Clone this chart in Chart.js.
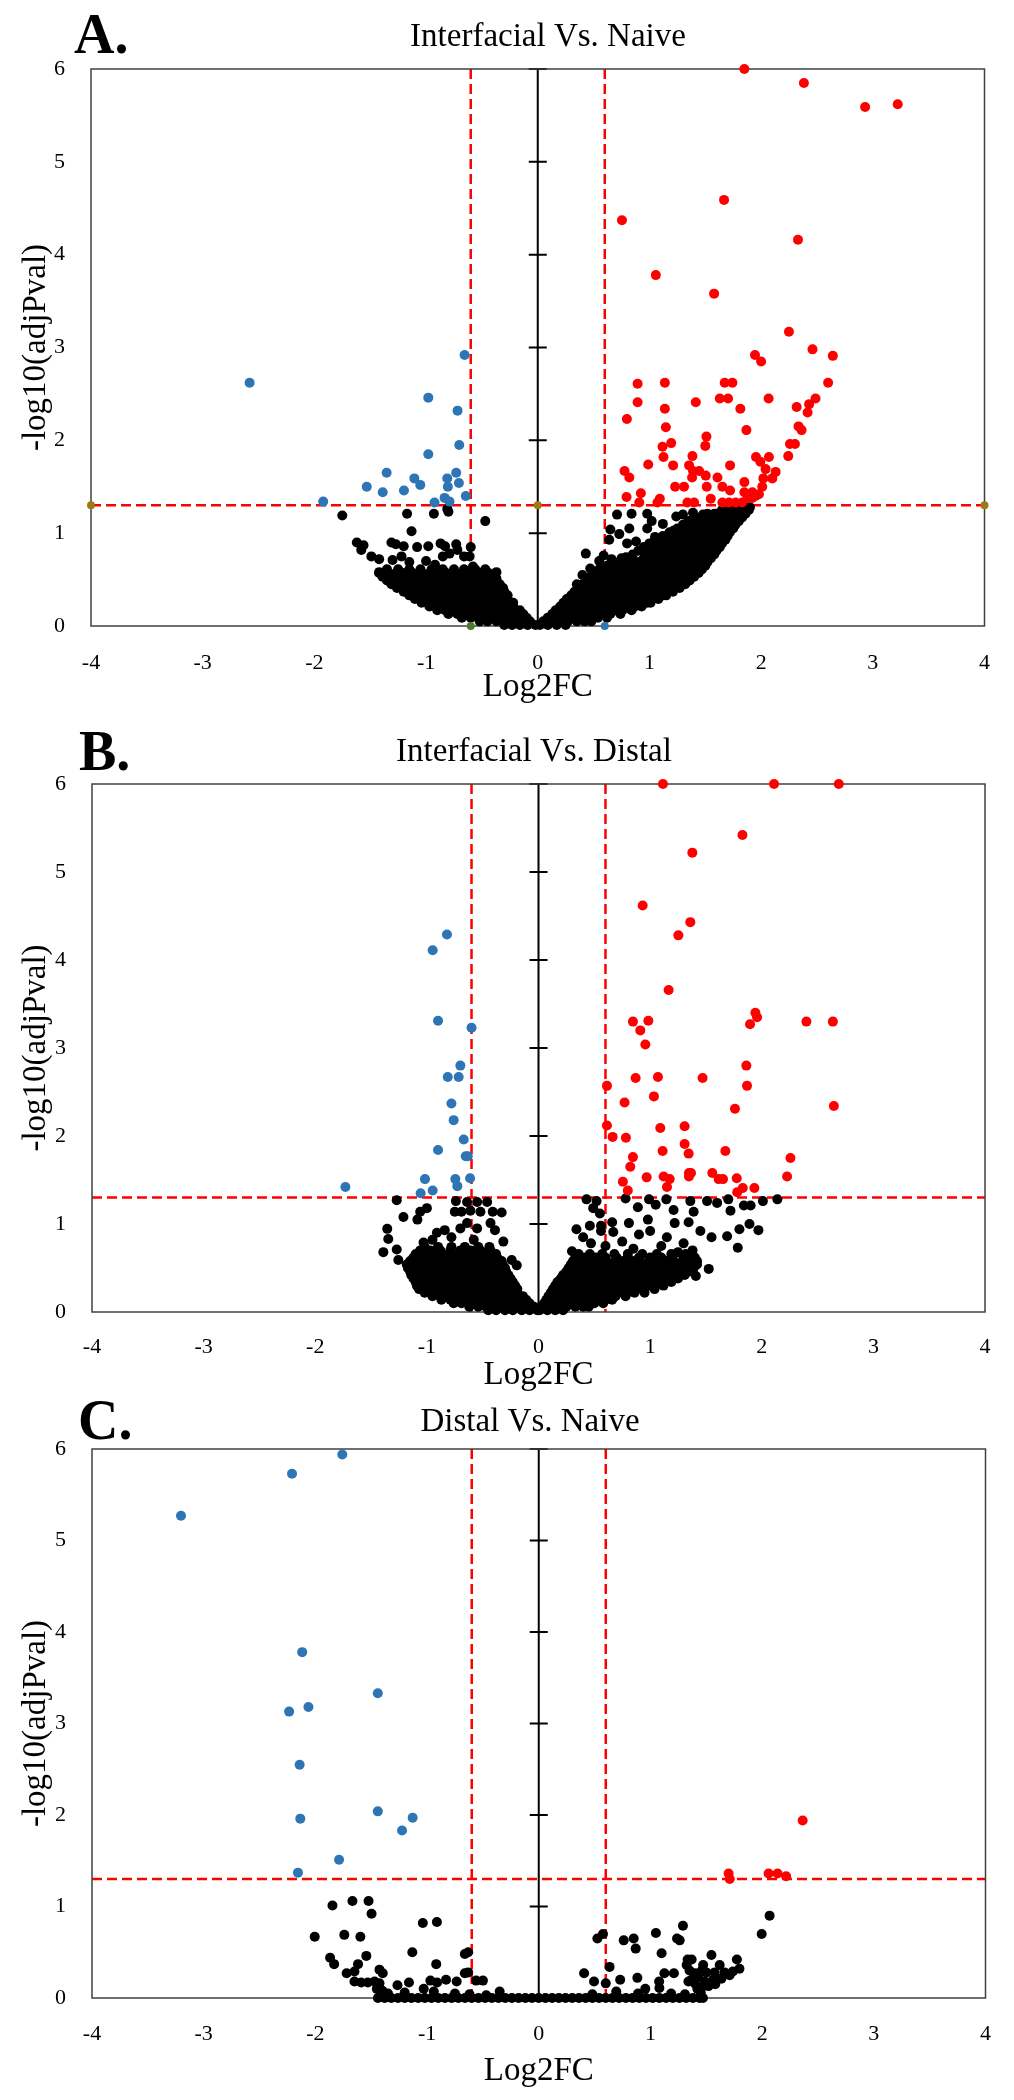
<!DOCTYPE html>
<html>
<head>
<meta charset="utf-8">
<script src="https://cdn.jsdelivr.net/npm/chart.js@4.4.1/dist/chart.umd.min.js"></script>
<style>
  body { margin: 0; background: #fff; width: 1014px; height: 2100px; position: relative; overflow: hidden; }
  canvas { position: absolute; left: 0; }
</style>
</head>
<body>
<canvas id="chartA" width="1014" height="710" style="top:0px"></canvas>
<canvas id="chartB" width="1014" height="700" style="top:700px"></canvas>
<canvas id="chartC" width="1014" height="720" style="top:1380px"></canvas>
<script>
// axis ranges and cut-offs
const fcRange = [-4, 4];
const pRange = [0, 6];
const fcCut = [-0.6, 0.6];
const pCut = 1.3;
const zeroTicks = [1, 2, 3, 4, 5, 6];

// ---------- A. Interfacial Vs. Naive ----------
const downA = [[-2.58,2.62],[-0.655,2.92],[-0.98,2.46],[-0.718,2.32],[-0.703,1.95],[-0.98,1.85],[-1.353,1.65],[-1.531,1.50],[-1.388,1.44],[-1.198,1.46],[-1.105,1.59],[-1.052,1.52],[-0.81,1.59],[-0.73,1.65],[-0.805,1.50],[-0.706,1.54],[-0.644,1.40],[-1.921,1.34],[-0.924,1.33],[-0.834,1.38],[-0.79,1.34]];
const upA = [[1.85,6.0],[2.383,5.85],[2.931,5.59],[3.223,5.62],[1.668,4.59],[0.754,4.37],[2.33,4.16],[1.057,3.78],[1.579,3.58],[2.249,3.17],[2.46,2.98],[2.642,2.91],[1.945,2.92],[2.0,2.85],[0.894,2.61],[1.138,2.62],[1.674,2.62],[1.743,2.62],[2.6,2.62],[0.894,2.41],[1.138,2.34],[1.415,2.41],[1.63,2.45],[1.704,2.45],[2.067,2.45],[2.487,2.45],[2.43,2.39],[2.318,2.36],[2.416,2.30],[1.814,2.34],[0.798,2.23],[1.147,2.14],[1.868,2.11],[2.335,2.15],[2.362,2.11],[1.51,2.04],[1.50,1.94],[1.195,1.97],[1.117,1.93],[2.258,1.96],[2.303,1.96],[2.243,1.83],[1.954,1.82],[2.07,1.82],[1.126,1.82],[1.385,1.83],[0.989,1.74],[1.212,1.73],[1.722,1.73],[0.777,1.67],[0.82,1.60],[1.355,1.73],[1.39,1.67],[1.445,1.67],[1.504,1.62],[1.382,1.60],[1.609,1.60],[1.993,1.77],[2.04,1.69],[2.13,1.66],[2.10,1.59],[2.02,1.59],[1.23,1.50],[1.31,1.50],[1.513,1.50],[1.653,1.50],[1.722,1.46],[1.85,1.55],[1.85,1.44],[1.921,1.44],[1.98,1.42],[2.01,1.50],[0.795,1.39],[0.923,1.43],[1.093,1.37],[1.549,1.37],[0.909,1.33],[1.072,1.33],[1.34,1.33],[1.40,1.33],[1.653,1.33],[1.713,1.33],[1.772,1.33],[1.83,1.33],[1.877,1.38],[1.92,1.38],[1.95,1.40]];
// dense cloud of non-significant genes, read row by row: [y, x values]
const cloudA = [
  [0.01, [-0.30,-0.23,-0.16,-0.09,-0.02,0.02,0.09,0.17,0.25]],
  [0.05, [-0.52,-0.45,-0.37,-0.30,-0.22,-0.15,-0.07,0.05,0.12,0.20,0.27,0.35,0.42,0.48]],
  [0.09, [-0.68,-0.60,-0.53,-0.45,-0.38,-0.30,-0.23,-0.15,-0.10,0.09,0.16,0.24,0.31,0.39,0.46,0.54,0.62]],
  [0.13, [-0.80,-0.72,-0.65,-0.57,-0.50,-0.42,-0.35,-0.27,-0.20,-0.13,0.13,0.20,0.28,0.35,0.43,0.50,0.58,0.65,0.74]],
  [0.17, [-0.90,-0.83,-0.75,-0.68,-0.60,-0.53,-0.45,-0.38,-0.30,-0.23,-0.16,0.16,0.24,0.31,0.39,0.46,0.54,0.61,0.69,0.76,0.84]],
  [0.21, [-0.97,-0.89,-0.82,-0.74,-0.67,-0.59,-0.52,-0.44,-0.37,-0.29,-0.22,0.20,0.27,0.35,0.42,0.50,0.57,0.65,0.72,0.80,0.87,0.93]],
  [0.25, [-1.04,-0.97,-0.89,-0.82,-0.74,-0.67,-0.59,-0.52,-0.44,-0.37,-0.29,-0.22,0.23,0.31,0.38,0.46,0.53,0.61,0.68,0.76,0.83,0.91,0.98,1.01]],
  [0.29, [-1.10,-1.02,-0.95,-0.87,-0.80,-0.72,-0.65,-0.57,-0.50,-0.42,-0.35,-0.27,0.26,0.34,0.41,0.49,0.56,0.64,0.71,0.79,0.86,0.94,1.01,1.08]],
  [0.33, [-1.15,-1.08,-1.00,-0.93,-0.85,-0.78,-0.70,-0.63,-0.55,-0.48,-0.40,-0.33,-0.27,0.30,0.37,0.45,0.52,0.60,0.67,0.75,0.82,0.90,0.97,1.05,1.12,1.15]],
  [0.37, [-1.20,-1.12,-1.05,-0.97,-0.90,-0.82,-0.75,-0.67,-0.60,-0.52,-0.45,-0.37,-0.30,0.33,0.41,0.48,0.56,0.63,0.71,0.78,0.86,0.93,1.01,1.08,1.16,1.21]],
  [0.41, [-1.26,-1.18,-1.11,-1.03,-0.96,-0.88,-0.81,-0.73,-0.66,-0.58,-0.51,-0.43,-0.36,-0.31,0.37,0.44,0.52,0.59,0.67,0.74,0.82,0.89,0.97,1.04,1.12,1.19,1.27]],
  [0.45, [-1.31,-1.24,-1.16,-1.09,-1.01,-0.94,-0.86,-0.79,-0.71,-0.64,-0.56,-0.49,-0.41,-0.34,0.40,0.48,0.55,0.63,0.70,0.78,0.85,0.93,1.00,1.08,1.15,1.23,1.30,1.32]],
  [0.49, [-1.35,-1.27,-1.20,-1.12,-1.05,-0.97,-0.90,-0.82,-0.75,-0.67,-0.60,-0.52,-0.45,-0.37,0.44,0.51,0.59,0.66,0.74,0.81,0.89,0.96,1.04,1.11,1.19,1.26,1.34,1.36]],
  [0.53, [-1.39,-1.31,-1.24,-1.16,-1.09,-1.01,-0.94,-0.86,-0.79,-0.71,-0.64,-0.56,-0.49,-0.41,0.47,0.55,0.62,0.70,0.77,0.85,0.92,1.00,1.07,1.15,1.22,1.30,1.37,1.40]],
  [0.57, [-1.42,-1.34,-1.27,-1.19,-1.12,-1.04,-0.97,-0.89,-0.82,-0.74,-0.67,-0.59,-0.52,-0.44,0.50,0.58,0.65,0.73,0.80,0.88,0.95,1.03,1.10,1.18,1.25,1.33,1.40,1.44]],
  [0.61, [-1.35,-1.25,-1.15,-1.05,-0.95,-0.85,-0.75,-0.66,-0.56,-0.47,0.55,0.62,0.70,0.77,0.85,0.92,1.00,1.07,1.15,1.22,1.30,1.37,1.44,1.47]],
  [0.65, [0.62,0.69,0.77,0.84,0.92,0.99,1.07,1.14,1.22,1.29,1.37,1.44,1.50]],
  [0.69, [0.68,0.76,0.83,0.91,0.98,1.06,1.13,1.21,1.28,1.36,1.43,1.52]],
  [0.73, [0.75,0.85,0.95,1.03,1.10,1.18,1.25,1.33,1.40,1.48,1.55]],
  [0.77, [0.85,0.97,1.07,1.14,1.22,1.29,1.37,1.44,1.52,1.58]],
  [0.81, [0.90,1.02,1.11,1.18,1.26,1.33,1.41,1.48,1.56,1.60]],
  [0.85, [0.95,1.08,1.15,1.23,1.30,1.38,1.45,1.53,1.60,1.63]],
  [0.89, [1.00,1.12,1.19,1.27,1.34,1.42,1.49,1.57,1.65]],
  [0.93, [1.05,1.17,1.24,1.32,1.39,1.47,1.54,1.62,1.68]],
  [0.97, [1.12,1.22,1.29,1.37,1.44,1.52,1.59,1.67,1.70]],
  [1.01, [1.18,1.27,1.34,1.42,1.49,1.57,1.64,1.72]],
  [1.05, [1.25,1.33,1.40,1.48,1.55,1.63,1.70,1.75]],
  [1.09, [1.30,1.38,1.45,1.53,1.60,1.68,1.77]],
  [1.13, [1.35,1.43,1.50,1.58,1.65,1.73,1.80]],
  [1.17, [1.42,1.50,1.57,1.65,1.72,1.80,1.83]],
  [1.21, [1.52,1.60,1.67,1.75,1.82,1.86]],
  [1.25, [1.65,1.72,1.80,1.89]],
  [1.28, [1.78,1.85,1.90]]
];
const looseA = [[-1.75,1.19],[-1.17,1.21],[-0.93,1.21],[-0.81,1.26],[-0.80,1.23],[-0.47,1.13],[-1.13,1.02],[-1.62,0.90],[-1.56,0.87],[-1.58,0.82],[-1.31,0.90],[-1.27,0.88],[-1.20,0.86],[-1.08,0.85],[-0.98,0.86],[-0.87,0.89],[-0.83,0.86],[-0.73,0.88],[-0.60,0.85],[-1.49,0.75],[-1.42,0.72],[-1.30,0.71],[-1.22,0.75],[-1.15,0.69],[-0.85,0.75],[-0.79,0.78],[-0.72,0.82],[-0.66,0.75],[-0.61,0.75],[-0.58,0.64],[-0.49,0.58],[-0.37,0.58],[-0.37,0.51],[-1.42,0.58],[-1.0,0.70],[-0.92,0.66],
  [0.71,1.20],[0.84,1.21],[0.98,1.21],[0.65,1.04],[0.82,1.05],[0.98,1.05],[0.73,0.99],[0.64,0.93],[0.80,0.89],[0.88,0.91],[0.43,0.78],[0.59,0.76],[0.66,0.72],[0.79,0.74],[1.24,1.18],[1.30,1.20],[1.39,1.22],[1.48,1.20],[1.58,1.21],[1.68,1.21],[1.22,1.03],[1.15,0.93],[0.47,0.62],[0.55,0.70],[1.05,0.96],[1.07,0.85],[0.95,0.72],[1.02,1.13],[1.12,1.10],[0.40,0.55],[0.35,0.45]];
const markA = [[-4,1.3],[0,1.3],[4,1.3],[-0.6,0],[0.6,0]];
const markColorsA = ['#9C7A14','#9C7A14','#9C7A14','#4E7A2A','#2E75B6'];

// ---------- B. Interfacial Vs. Distal ----------
const downB = [[-0.82,4.29],[-0.948,4.11],[-0.90,3.31],[-0.60,3.23],[-0.70,2.80],[-0.813,2.67],[-0.715,2.67],[-0.78,2.37],[-0.76,2.18],[-0.67,1.96],[-0.90,1.84],[-0.652,1.77],[-0.634,1.77],[-1.73,1.42],[-1.017,1.51],[-0.745,1.51],[-0.613,1.52],[-1.056,1.35],[-0.948,1.38],[-0.727,1.43]];
const upB = [[1.115,6.0],[2.11,6.0],[2.69,6.0],[1.827,5.42],[1.378,5.22],[0.933,4.62],[1.36,4.43],[1.253,4.28],[1.166,3.66],[0.846,3.30],[0.984,3.31],[0.912,3.20],[0.957,3.04],[1.943,3.40],[1.958,3.35],[1.895,3.27],[2.40,3.30],[2.637,3.30],[1.862,2.80],[1.868,2.57],[0.87,2.66],[1.07,2.67],[1.47,2.66],[0.613,2.57],[1.034,2.45],[0.771,2.38],[1.76,2.31],[2.646,2.34],[0.613,2.12],[0.664,1.99],[0.783,1.98],[1.091,2.09],[1.309,2.11],[1.309,1.91],[1.345,1.80],[1.112,1.83],[1.674,1.83],[0.846,1.76],[0.822,1.65],[2.257,1.75],[0.969,1.53],[1.121,1.54],[1.175,1.51],[1.151,1.42],[1.348,1.58],[1.366,1.58],[1.348,1.54],[1.557,1.58],[1.614,1.51],[1.653,1.51],[1.776,1.52],[2.227,1.54],[0.756,1.48],[0.80,1.38],[1.83,1.41],[1.78,1.36],[1.934,1.41]];
const cloudB = [
  [0.02, [-0.45,-0.38,-0.30,-0.23,-0.15,-0.08,-0.01,0.01,0.08,0.15,0.22]],
  [0.06, [-0.62,-0.54,-0.47,-0.39,-0.32,-0.24,-0.17,-0.09,-0.04,0.03,0.10,0.18,0.25,0.33,0.40,0.45]],
  [0.10, [-0.76,-0.69,-0.61,-0.54,-0.46,-0.39,-0.31,-0.24,-0.16,-0.08,0.05,0.12,0.20,0.27,0.35,0.42,0.50,0.58]],
  [0.14, [-0.87,-0.79,-0.72,-0.64,-0.57,-0.49,-0.42,-0.34,-0.27,-0.19,-0.11,0.07,0.15,0.22,0.30,0.37,0.45,0.52,0.60,0.66]],
  [0.18, [-0.95,-0.88,-0.80,-0.73,-0.65,-0.58,-0.50,-0.43,-0.35,-0.28,-0.20,-0.14,0.09,0.16,0.24,0.31,0.39,0.46,0.54,0.61,0.69,0.78]],
  [0.22, [-1.02,-0.94,-0.87,-0.79,-0.72,-0.64,-0.57,-0.49,-0.42,-0.34,-0.27,-0.19,0.11,0.19,0.26,0.34,0.41,0.49,0.56,0.64,0.71,0.79,0.86,0.95]],
  [0.26, [-1.07,-1.00,-0.92,-0.85,-0.77,-0.70,-0.62,-0.55,-0.47,-0.40,-0.32,-0.25,-0.19,0.13,0.20,0.28,0.35,0.43,0.50,0.58,0.65,0.73,0.80,0.88,0.95,1.04]],
  [0.30, [-1.09,-1.02,-0.94,-0.87,-0.79,-0.72,-0.64,-0.57,-0.49,-0.42,-0.34,-0.27,-0.21,0.15,0.23,0.30,0.38,0.45,0.53,0.60,0.68,0.75,0.83,0.90,0.98,1.05,1.12]],
  [0.34, [-1.10,-1.03,-0.95,-0.88,-0.80,-0.73,-0.65,-0.58,-0.50,-0.43,-0.35,-0.28,-0.23,0.17,0.24,0.32,0.39,0.47,0.54,0.62,0.69,0.77,0.84,0.92,0.99,1.07,1.14,1.19]],
  [0.38, [-1.12,-1.05,-0.97,-0.90,-0.82,-0.75,-0.67,-0.60,-0.52,-0.45,-0.37,-0.30,-0.25,0.20,0.27,0.35,0.42,0.50,0.57,0.65,0.72,0.80,0.87,0.95,1.02,1.10,1.17,1.25]],
  [0.42, [-1.14,-1.06,-0.99,-0.91,-0.84,-0.76,-0.69,-0.61,-0.54,-0.46,-0.39,-0.31,-0.27,0.22,0.29,0.37,0.44,0.52,0.59,0.67,0.74,0.82,0.89,0.97,1.04,1.12,1.19,1.27,1.31]],
  [0.46, [-1.15,-1.08,-1.00,-0.93,-0.85,-0.78,-0.70,-0.63,-0.55,-0.48,-0.40,-0.33,-0.29,0.25,0.32,0.40,0.47,0.55,0.62,0.70,0.77,0.85,0.92,1.00,1.07,1.15,1.22,1.30,1.35]],
  [0.50, [-1.17,-1.09,-1.02,-0.94,-0.87,-0.79,-0.72,-0.64,-0.57,-0.49,-0.42,-0.34,-0.30,0.27,0.34,0.42,0.49,0.57,0.64,0.72,0.79,0.87,0.94,1.02,1.09,1.17,1.24,1.32,1.39]],
  [0.54, [-1.18,-1.11,-1.03,-0.96,-0.88,-0.81,-0.73,-0.66,-0.58,-0.51,-0.43,-0.36,-0.32,0.29,0.36,0.44,0.51,0.59,0.66,0.74,0.81,0.89,0.96,1.04,1.11,1.19,1.26,1.34,1.42]],
  [0.58, [-1.15,-1.07,-1.00,-0.92,-0.85,-0.77,-0.70,-0.62,-0.55,-0.47,-0.40,-0.33,0.31,0.39,0.46,0.54,0.61,0.69,0.76,0.84,0.91,0.99,1.06,1.14,1.21,1.29,1.36,1.42]],
  [0.62, [-1.12,-1.04,-0.97,-0.89,-0.82,-0.74,-0.67,-0.59,-0.52,-0.44,-0.37,0.33,0.42,0.51,0.60,0.70,0.80,0.90,1.00,1.10,1.20,1.30,1.40]],
  [0.66, [-1.10,-1.02,-0.95,-0.87,-0.80,-0.72,-0.65,-0.57,-0.50,-0.42,-0.38,0.36,0.46,0.57,0.68,0.80,0.93,1.06,1.19,1.32]],
  [0.70, [-1.06,-0.97,-0.88,-0.79,-0.70,-0.61,-0.52,-0.43]],
  [0.74, [-1.02,-0.90,-0.78,-0.66,-0.54,-0.44]]
];
const looseB = [[-1.27,1.27],[-0.74,1.26],[-0.64,1.25],[-0.55,1.25],[-0.46,1.25],[-1.06,1.14],[-1.0,1.18],[-1.21,1.08],[-1.085,1.05],[-0.75,1.14],[-0.69,1.14],[-0.61,1.15],[-0.52,1.14],[-0.41,1.14],[-0.33,1.13],[-0.64,1.01],[-0.55,0.95],[-0.43,1.01],[-0.39,0.93],[-1.355,0.945],[-1.346,0.83],[-1.39,0.68],[-1.27,0.71],[-1.256,0.59],[-0.91,0.90],[-0.84,0.93],[-1.03,0.79],[-0.315,0.80],[-0.24,0.59],[-0.195,0.53],[-0.95,0.82],[-0.78,0.85],[-0.58,0.82],[-0.70,0.95],
  [0.43,1.28],[0.52,1.26],[0.78,1.29],[0.99,1.28],[1.145,1.28],[1.36,1.26],[1.51,1.26],[1.6,1.24],[1.70,1.28],[1.84,1.21],[1.90,1.21],[2.01,1.26],[2.14,1.28],[0.89,1.19],[1.05,1.22],[1.21,1.16],[1.39,1.14],[1.72,1.15],[0.49,1.18],[0.55,1.12],[0.66,1.02],[0.81,1.01],[0.98,1.05],[1.22,1.01],[1.345,1.02],[1.80,0.94],[1.89,1.0],[1.97,0.93],[0.34,0.94],[0.46,0.98],[0.56,0.98],[0.56,0.92],[0.90,0.88],[1.0,0.92],[1.45,0.92],[1.55,0.85],[1.69,0.86],[0.67,0.91],[1.785,0.73],[0.30,0.69],[1.525,0.49],[1.41,0.41],[0.40,0.85],[0.47,0.78],[0.60,0.75],[0.75,0.80],[1.15,0.85],[1.30,0.78],[1.38,0.70],[1.25,0.68],[0.85,0.72],[1.1,0.75]];

// ---------- C. Distal Vs. Naive ----------
const downC = [[-1.759,5.94],[-2.209,5.73],[-3.203,5.27],[-2.118,3.78],[-1.441,3.33],[-2.235,3.13],[-2.062,3.18],[-2.141,2.55],[-2.135,1.96],[-1.441,2.04],[-1.129,1.97],[-1.224,1.83],[-1.788,1.51],[-2.156,1.37]];
const upC = [[2.363,1.94],[1.70,1.36],[1.71,1.30],[2.058,1.36],[2.138,1.36],[2.215,1.33]];
const cloudC = [
  [0.0, [-1.44,-1.38,-1.32,-1.26,-1.20,-1.14,-1.08,-1.02,-0.96,-0.90,-0.84,-0.78,-0.72,-0.66,-0.60,-0.54,-0.48,-0.42,-0.36,-0.30,-0.24,-0.18,-0.12,-0.06,0.00,0.06,0.12,0.18,0.24,0.30,0.36,0.42,0.48,0.54,0.60,0.66,0.72,0.78,0.84,0.90,0.96,1.02,1.08,1.14,1.20,1.26,1.32,1.38,1.44,1.47]]
];
const looseC = [[-1.847,1.01],[-1.668,1.06],[-1.524,1.06],[-1.497,0.92],[-2.006,0.67],[-1.741,0.69],[-1.597,0.67],[-1.038,0.82],[-0.912,0.83],[-1.868,0.44],[-1.832,0.37],[-1.544,0.46],[-1.618,0.37],[-1.72,0.27],[-1.65,0.29],[-1.426,0.31],[-1.397,0.27],[-1.132,0.50],[-0.918,0.37],[-0.662,0.48],[-0.632,0.50],[-0.662,0.27],[-0.632,0.28],[-1.65,0.18],[-1.59,0.17],[-1.53,0.17],[-1.47,0.18],[-1.426,0.16],[-1.265,0.14],[-1.162,0.17],[-0.97,0.19],[-0.91,0.17],[-0.83,0.2],[-0.735,0.18],[-0.56,0.19],[-0.50,0.19],[-1.03,0.1],[-0.94,0.07],[-0.35,0.07],[-1.45,0.10],[-1.40,0.08],[-1.35,0.05],[-1.2,0.06],[-0.75,0.05],[-0.62,0.04],[-0.47,0.03],
  [2.067,0.90],[1.996,0.70],[1.291,0.79],[1.049,0.71],[1.238,0.65],[1.262,0.63],[0.761,0.63],[0.85,0.65],[0.868,0.54],[0.525,0.65],[0.575,0.70],[1.10,0.49],[1.333,0.42],[1.369,0.42],[1.546,0.47],[1.774,0.42],[1.62,0.36],[1.472,0.36],[1.324,0.36],[1.797,0.32],[1.738,0.29],[1.664,0.28],[1.575,0.28],[1.50,0.28],[1.428,0.23],[1.369,0.20],[1.34,0.18],[1.398,0.16],[1.487,0.18],[1.56,0.20],[1.635,0.21],[1.709,0.25],[0.406,0.27],[0.495,0.18],[0.60,0.16],[0.634,0.34],[0.729,0.20],[0.883,0.22],[1.125,0.27],[1.21,0.27],[1.078,0.18],[1.08,0.11],[0.694,0.07],[0.954,0.10],[0.889,0.05],[1.185,0.05],[1.309,0.04],[0.48,0.04],[1.42,0.10],[1.45,0.06],[1.47,0.13],[1.52,0.13],[1.58,0.15],[1.40,0.27],[1.46,0.30],[1.35,0.30]];

const SERIF = '"Liberation Serif", "Times New Roman", serif';

function pairs(list) {
  return list.map(([x, y]) => ({x, y}));
}

function rows(table) {
  const out = [];
  table.forEach(([y, xs]) => xs.forEach(x => out.push({x, y})));
  return out;
}

// frame, zero axis with tick marks, dashed cut-off lines, panel letter and title
const volcanoDecor = {
  id: 'volcanoDecor',
  beforeDatasetsDraw(chart) {
    const {ctx, chartArea: a, scales: {x, y}} = chart;
    ctx.save();
    ctx.strokeStyle = '#FF0000';
    ctx.lineWidth = 2.5;
    ctx.setLineDash([10, 5]);
    ctx.beginPath();
    fcCut.forEach(v => {
      const px = x.getPixelForValue(v);
      ctx.moveTo(px, a.top);
      ctx.lineTo(px, a.bottom);
    });
    const py = y.getPixelForValue(pCut);
    ctx.moveTo(a.left, py);
    ctx.lineTo(a.right, py);
    ctx.stroke();
    ctx.setLineDash([]);

    const x0 = x.getPixelForValue(0);
    ctx.strokeStyle = '#000';
    ctx.lineWidth = 2;
    ctx.beginPath();
    ctx.moveTo(x0, a.top);
    ctx.lineTo(x0, a.bottom);
    zeroTicks.forEach(t => {
      const ty = y.getPixelForValue(t);
      ctx.moveTo(x0 - 9, ty);
      ctx.lineTo(x0 + 9, ty);
    });
    ctx.stroke();

    ctx.strokeStyle = '#404040';
    ctx.lineWidth = 1.5;
    ctx.strokeRect(a.left, a.top, a.right - a.left, a.bottom - a.top);
    ctx.restore();
  },
  afterDraw(chart, args, opts) {
    const ctx = chart.ctx;
    ctx.save();
    ctx.fillStyle = '#000';
    ctx.font = '33px ' + SERIF;
    ctx.textAlign = 'center';
    ctx.textBaseline = 'middle';
    ctx.fillText(opts.title, opts.tx, opts.ty);
    ctx.font = 'bold 56px ' + SERIF;
    ctx.textAlign = 'left';
    ctx.textBaseline = 'alphabetic';
    ctx.fillText(opts.letter, opts.lx, opts.ly);
    ctx.restore();
  }
};

function buildVolcano(id, d, lay) {
  const dot = (data, color, r) => ({
    data, backgroundColor: color, borderWidth: 0,
    pointRadius: r || 5, pointHoverRadius: r || 5, clip: false
  });
  const datasets = [];
  if (d.mark) datasets.push(dot(pairs(d.mark), d.markColors, 4));
  datasets.push(dot(pairs(d.up), '#FF0000'));
  datasets.push(dot(pairs(d.down), '#2E75B6'));
  datasets.push(dot(rows(d.cloud).concat(pairs(d.loose)), '#000000'));

  const tickFont = {family: SERIF, size: 22};
  const titleFont = {family: SERIF, size: 33};

  return new Chart(document.getElementById(id), {
    type: 'scatter',
    data: {datasets},
    options: {
      responsive: false,
      animation: false,
      devicePixelRatio: 1,
      layout: {autoPadding: false, padding: {left: 0, top: lay.top, right: lay.right, bottom: 0}},
      plugins: {
        legend: {display: false},
        tooltip: {enabled: false},
        volcanoDecor: {title: d.title, letter: d.letter, tx: lay.tx, ty: lay.ty, lx: lay.lx, ly: lay.ly}
      },
      scales: {
        x: {
          type: 'linear', position: 'bottom', min: fcRange[0], max: fcRange[1],
          ticks: {stepSize: 1, color: '#000', font: tickFont, padding: lay.xPad, maxRotation: 0},
          grid: {display: false, drawTicks: false},
          border: {display: false},
          title: {display: true, text: 'Log2FC', color: '#000', font: titleFont, padding: {top: 0, bottom: lay.xTitlePad}},
          afterFit: s => { s.height = lay.xHeight; }
        },
        y: {
          type: 'linear', position: 'left', min: pRange[0], max: pRange[1],
          ticks: {stepSize: 1, color: '#000', font: tickFont, padding: 26},
          grid: {display: false, drawTicks: false},
          border: {display: false},
          title: {display: true, text: '-log10(adjPval)', color: '#000', font: titleFont, padding: {top: 17, bottom: 0}},
          afterFit: s => { s.width = lay.left; }
        }
      }
    },
    plugins: [volcanoDecor]
  });
}

buildVolcano('chartA',
  {title: 'Interfacial Vs. Naive', letter: 'A.', up: upA, down: downA, cloud: cloudA, loose: looseA, mark: markA, markColors: markColorsA},
  {top: 69, right: 28, left: 91, xHeight: 84, xPad: 24, xTitlePad: 3, tx: 548, ty: 37, lx: 74, ly: 53});

buildVolcano('chartB',
  {title: 'Interfacial Vs. Distal', letter: 'B.', up: upB, down: downB, cloud: cloudB, loose: looseB},
  {top: 84, right: 29, left: 92, xHeight: 88, xPad: 22, xTitlePad: 5, tx: 534, ty: 52, lx: 79, ly: 70});

buildVolcano('chartC',
  {title: 'Distal Vs. Naive', letter: 'C.', up: upC, down: downC, cloud: cloudC, loose: looseC},
  {top: 69, right: 21, left: 92, xHeight: 102, xPad: 23, xTitlePad: 9, tx: 530, ty: 42, lx: 78, ly: 59});
</script>
</body>
</html>
